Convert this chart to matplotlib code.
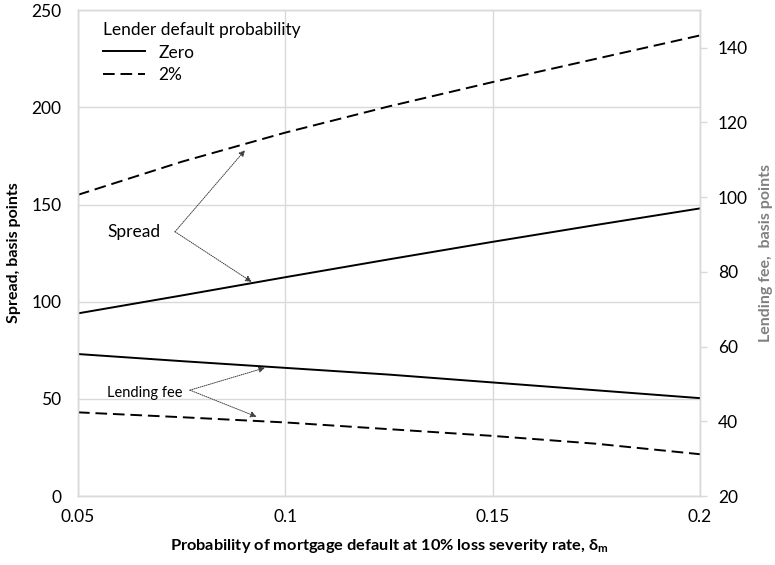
import matplotlib
matplotlib.use("Agg")
import matplotlib.pyplot as plt

plt.rcParams['font.family'] = ['Lato', 'DejaVu Sans']
plt.rcParams['mathtext.fontset'] = 'custom'
plt.rcParams['mathtext.rm'] = 'Lato'
plt.rcParams['mathtext.it'] = 'Lato'
plt.rcParams['mathtext.bf'] = 'Lato:bold'

# Data
x = [0.05, 0.075, 0.1, 0.125, 0.15, 0.175, 0.2]
spread_zero = [94, 103.2, 112.6, 121.8, 130.8, 139.5, 148]
spread_2pct = [155, 172, 187, 200.5, 213, 225, 237]
fee_zero = [58.0, 56.1, 54.3, 52.5, 50.4, 48.3, 46.2]   # right axis
fee_2pct = [42.4, 41.1, 39.7, 37.9, 36.1, 34.0, 31.2]   # right axis

xticks = [0.05, 0.1, 0.15, 0.2]
xticklabels = ["0.05", "0.1", "0.15", "0.2"]
left_ticks = [0, 50, 100, 150, 200, 250]
right_ticks = [20, 40, 60, 80, 100, 120, 140]

grid_c = '#d9d9d9'
fig = plt.figure(figsize=(7.75, 5.65), dpi=100)
ax = fig.add_axes([0.1006, 0.122, 0.8025, 0.860])
ax2 = ax.twinx()

lw = 1.4
l1, = ax.plot(x, spread_zero, color='black', lw=lw)
l2, = ax.plot(x, spread_2pct, color='black', lw=lw, ls=(0, (6, 3)))
ax2.plot(x, fee_zero, color='black', lw=lw)
ax2.plot(x, fee_2pct, color='black', lw=lw, ls=(0, (6, 3)))

ax.set_xlim(0.05, 0.2)
ax.set_ylim(0, 250)
ax2.set_ylim(20, 150)
ax.set_xticks(xticks)
ax.set_xticklabels(xticklabels)
ax.set_yticks(left_ticks)
ax2.set_yticks(right_ticks)

ax.grid(True, color=grid_c, lw=1.0)
ax.set_axisbelow(True)
for a in (ax, ax2):
    for s in a.spines.values():
        s.set_color(grid_c)
        s.set_linewidth(1.0)

fs = 12.5
ax.tick_params(axis='y', length=0, pad=12, labelsize=fs)
ax.tick_params(axis='x', length=0, pad=9, labelsize=fs)
ax2.tick_params(axis='y', length=5, width=1.0, color=grid_c, pad=8, labelsize=fs)

ax.set_ylabel("Spread, basis points", fontsize=11.5, fontweight='bold', labelpad=7)
ax2.set_ylabel("Lending fee,  basis points", fontsize=11.5, fontweight='bold',
               color='#808080', labelpad=8)
ax.set_xlabel(r"Probability of mortgage default at 10% loss severity rate, δ$_\mathbf{m}$",
              fontsize=11.8, fontweight='bold', labelpad=9)

leg = ax.legend([l1, l2], ["Zero", "2%"], title="Lender default probability",
                loc='upper left', frameon=False, fontsize=12.5, title_fontsize=12.5,
                handlelength=2.4, handletextpad=0.8, labelspacing=0.36,
                bbox_to_anchor=(0.04, 0.975), borderaxespad=0.0, borderpad=0.0)
leg._legend_box.align = 'left'

arrow = dict(arrowstyle='-|>', linestyle=(0, (1, 1.2)), color='#404040', lw=0.7,
             mutation_scale=9, shrinkA=0, shrinkB=0)
ax.text(0.0698, 135.8, "Spread", ha='right', va='center', fontsize=12.5)
ax.annotate("", xy=(0.0903, 178.0), xytext=(0.0734, 136.0), arrowprops=arrow)
ax.annotate("", xy=(0.0919, 110.2), xytext=(0.0734, 136.0), arrowprops=arrow)

ax.text(0.0753, 53.1, "Lending fee", ha='right', va='center', fontsize=10.5)
ax.annotate("", xy=(0.0951, 66.0), xytext=(0.0770, 54.5), arrowprops=arrow)
ax.annotate("", xy=(0.0931, 40.8), xytext=(0.0770, 54.5), arrowprops=arrow)

fig.savefig("out.png", dpi=100)
